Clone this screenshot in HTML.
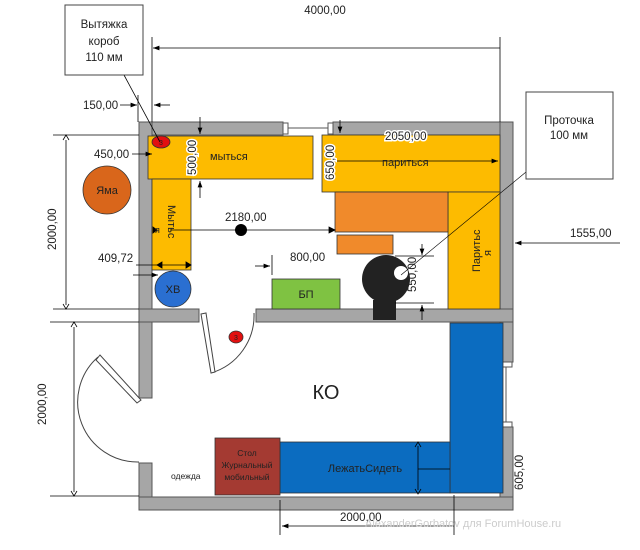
<!DOCTYPE html>
<html><head><meta charset="utf-8"><style>
html,body{margin:0;padding:0;background:#fff;width:640px;height:550px;overflow:hidden}
text{font-family:"Liberation Sans",sans-serif;fill:#222}
</style></head><body>
<svg width="640" height="550" viewBox="0 0 640 550" xmlns="http://www.w3.org/2000/svg">
<defs><marker id="a" markerWidth="8" markerHeight="6" refX="8" refY="3" orient="auto"><path d="M0,0L8,3L0,6z" fill="#000"/></marker></defs>
<g fill="#a6a6a6" stroke="#555" stroke-width="1">
<rect x="139" y="122" width="144" height="13"/><rect x="333" y="122" width="180" height="13"/>
<rect x="139" y="122" width="13" height="276"/><rect x="139" y="463" width="13" height="47"/>
<rect x="500" y="122" width="13" height="240"/><rect x="500" y="427" width="13" height="83"/>
<rect x="139" y="497" width="374" height="13"/>
<rect x="139" y="309" width="60" height="13"/><rect x="256" y="309" width="257" height="13"/>
</g>
<g stroke="#555" fill="#fff"><rect x="283" y="123" width="5" height="11"/><rect x="328" y="123" width="5" height="11"/><line x1="288" y1="128" x2="328" y2="128"/>
<rect x="501" y="362" width="11" height="5"/><rect x="501" y="422" width="11" height="5"/><line x1="506" y1="367" x2="506" y2="422"/></g>
<g stroke="#444" fill="none"><path d="M211,373 A60,60 0 0 0 254,313"/><polygon points="201,314 206,313 215,372 211,373" fill="#fff"/>
<path d="M98,357 A60,60 0 0 0 139,462"/><polygon points="96,360 100,355 141,400 137,403" fill="#fff"/></g>
<g stroke="#333" stroke-width="0.8">
<rect x="148" y="136" width="165" height="43" fill="#fdbb00"/>
<rect x="152" y="179" width="39" height="91" fill="#fdbb00"/>
<rect x="322" y="135" width="178" height="57" fill="#fdbb00"/>
<rect x="448" y="192" width="52" height="117" fill="#fdbb00"/>
<rect x="335" y="192" width="113" height="40" fill="#f08a2b"/>
<rect x="337" y="235" width="56" height="19" fill="#f08a2b"/>
<rect x="272" y="279" width="68" height="30" fill="#7fc242"/>
<rect x="450" y="323" width="53" height="170" fill="#0b6cc0"/>
<rect x="280" y="442" width="170" height="51" fill="#0b6cc0"/>
<rect x="215" y="438" width="65" height="57" fill="#a43a32"/>
<circle cx="107" cy="190" r="24" fill="#d9661b"/>
<circle cx="173" cy="289" r="18" fill="#2a6fd1"/>
<ellipse cx="161" cy="142" rx="9" ry="6" fill="#e21010"/>
<ellipse cx="236" cy="337" rx="7" ry="6" fill="#e21010"/>
</g>
<circle cx="386" cy="279" r="24" fill="#222"/><rect x="373" y="300" width="23" height="20" fill="#222"/>
<circle cx="401" cy="273" r="7" fill="#fff"/>
<circle cx="241" cy="230" r="6" fill="#000"/>
<g stroke="#000" stroke-width="0.8" fill="none">
<line x1="152" y1="37" x2="152" y2="122"/><line x1="500" y1="37" x2="500" y2="122"/>
<line x1="500" y1="48" x2="153" y2="48" marker-end="url(#a)"/>
<line x1="138" y1="95" x2="138" y2="122"/>
<line x1="120" y1="105" x2="137" y2="105" marker-end="url(#a)"/><line x1="170" y1="105" x2="154" y2="105" marker-end="url(#a)"/>
<line x1="53" y1="135" x2="139" y2="135"/><line x1="53" y1="309" x2="139" y2="309"/>
<line x1="66" y1="140" x2="66" y2="305"/><path d="M63,140L66,135L69,140M63,304L66,309L69,304"/>
<line x1="132" y1="154" x2="152" y2="154" marker-end="url(#a)"/>
<line x1="200" y1="117" x2="200" y2="134" marker-end="url(#a)"/><line x1="200" y1="198" x2="200" y2="181" marker-end="url(#a)"/>
<line x1="170" y1="230" x2="335" y2="230"/><path d="M157,230L153,227V233zM335,230L329,227V233z" fill="#000"/>
<line x1="136" y1="265" x2="191" y2="265"/><path d="M157,265L162,262V268zM191,265L186,262V268z" fill="#000"/>
<line x1="133" y1="275" x2="158" y2="275" marker-end="url(#a)"/>
<line x1="272" y1="255" x2="272" y2="275"/><line x1="255" y1="266" x2="270" y2="266" marker-end="url(#a)"/>
<line x1="340" y1="120" x2="340" y2="133" marker-end="url(#a)"/>
<line x1="330" y1="161" x2="498" y2="161" marker-end="url(#a)"/>
<line x1="395" y1="256" x2="434" y2="256"/><line x1="395" y1="303" x2="434" y2="303"/>
<line x1="422" y1="244" x2="422" y2="255" marker-end="url(#a)"/><line x1="422" y1="320" x2="422" y2="305" marker-end="url(#a)"/>
<line x1="620" y1="243" x2="515" y2="243" marker-end="url(#a)"/>
<line x1="50" y1="322" x2="139" y2="322"/><line x1="50" y1="496" x2="139" y2="496"/>
<line x1="74" y1="327" x2="74" y2="492"/><path d="M71,327L74,322L77,327M71,491L74,496L77,491"/>
<line x1="418" y1="446" x2="418" y2="490"/><path d="M415,447L418,442L421,447M415,489L418,494L421,489"/>
<line x1="418" y1="469" x2="450" y2="469"/>
<line x1="280" y1="500" x2="280" y2="535"/><line x1="454" y1="495" x2="454" y2="535"/>
<line x1="454" y1="526" x2="282" y2="526" marker-end="url(#a)"/>
<line x1="124" y1="75" x2="160" y2="142"/><line x1="526" y1="172" x2="401" y2="275" stroke-width="0.6"/>
</g>
<rect x="65" y="5" width="78" height="70" fill="#fff" stroke="#444"/>
<rect x="526" y="92" width="87" height="87" fill="#fff" stroke="#444"/>
<g font-size="11.5">
<text x="104" y="28" text-anchor="middle">Вытяжка</text><text x="104" y="45" text-anchor="middle">короб</text><text x="104" y="61" text-anchor="middle">110 мм</text>
<text x="569" y="124" text-anchor="middle">Проточка</text><text x="569" y="139" text-anchor="middle">100 мм</text>
<text x="325" y="14" text-anchor="middle">4000,00</text>
<text x="83" y="109">150,00</text><text x="94" y="158">450,00</text><text x="98" y="262">409,72</text>
<text x="225" y="221">2180,00</text><text x="290" y="261">800,00</text>
<text x="385" y="140" style="paint-order:stroke" stroke="#fff" stroke-width="3">2050,00</text>
<text x="570" y="237">1555,00</text>
<text x="340" y="521">2000,00</text>
<text transform="translate(196,175) rotate(-90)" style="paint-order:stroke" stroke="#fff" stroke-width="3">500,00</text>
<text transform="translate(334,180) rotate(-90)" style="paint-order:stroke" stroke="#fff" stroke-width="3">650,00</text>
<text transform="translate(416,292) rotate(-90)">550,00</text>
<text transform="translate(56,250) rotate(-90)">2000,00</text>
<text transform="translate(46,425) rotate(-90)">2000,00</text>
<text transform="translate(523,490) rotate(-90)">605,00</text>
<text x="210" y="160" font-size="11">мыться</text>
<text x="382" y="166" font-size="11">париться</text>
<text transform="translate(168,205) rotate(90)" font-size="11">Мытьс</text>
<text x="155" y="233" font-size="9">я</text>
<text transform="translate(480,272) rotate(-90)" font-size="11">Паритьс</text>
<text transform="translate(491,256) rotate(-90)" font-size="11">я</text>
<text x="107" y="194" text-anchor="middle" font-size="11">Яма</text>
<text x="173" y="293" text-anchor="middle" font-size="11">ХВ</text>
<text x="306" y="298" text-anchor="middle" font-size="11">БП</text>
<text x="326" y="399" text-anchor="middle" font-size="20">КО</text>
<text x="365" y="472" text-anchor="middle" font-size="11">ЛежатьСидеть</text>
<text x="247" y="456" text-anchor="middle" font-size="8.5">Стол</text>
<text x="247" y="468" text-anchor="middle" font-size="8.5">Журнальный</text>
<text x="247" y="480" text-anchor="middle" font-size="8.5">мобильный</text>
<text x="171" y="479" font-size="8.5">одежда</text>
<text x="236" y="340" font-size="7" text-anchor="middle">3</text>
<text x="161" y="145" font-size="7" text-anchor="middle">3</text>
<text x="365" y="527" font-size="11" style="fill:#ccc">AlexanderGorbatov для ForumHouse.ru</text>
</g>
</svg>
</body></html>
